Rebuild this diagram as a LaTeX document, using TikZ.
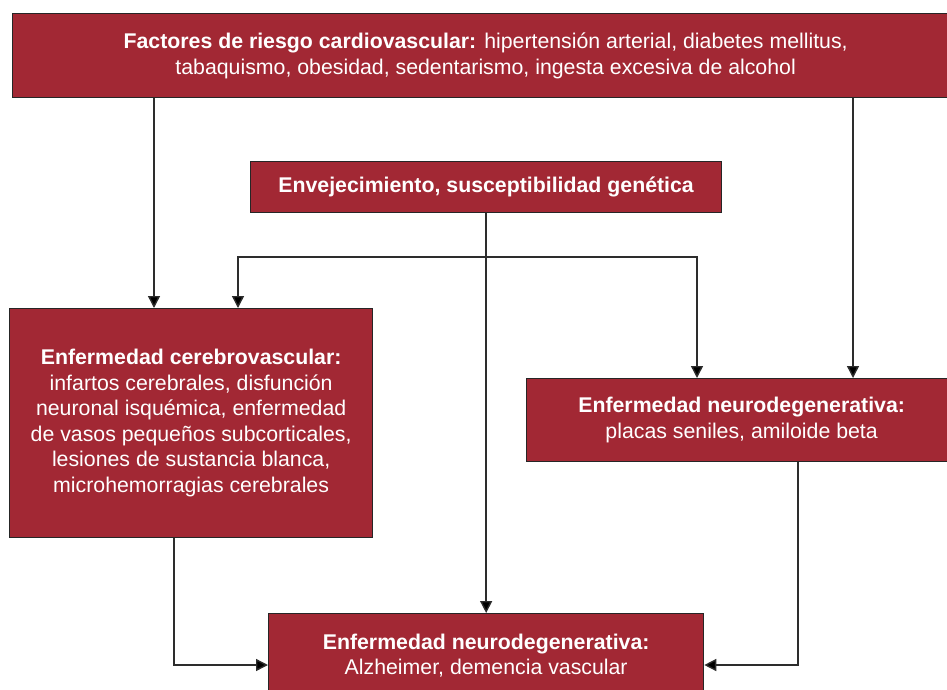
\documentclass[tikz,border=0pt]{standalone}
\usepackage{fontspec}
\setmainfont{Liberation Sans}
\usetikzlibrary{arrows.meta}
\definecolor{boxred}{RGB}{162,40,52}
\definecolor{linegrey}{RGB}{45,45,45}
\begin{document}
\begin{tikzpicture}[x=1pt,y=-1pt,
  box/.style={draw=black!85, line width=1.3pt, fill=boxred, text=white,
    anchor=north west, inner sep=0pt, align=center,
    font=\fontsize{21.3}{25.5}\selectfont},
  arr/.style={draw=linegrey, line width=1.4pt,
    -{Triangle[width=12pt,length=12pt,fill=black]}},
  conn/.style={draw=linegrey, line width=1.4pt}]
\useasboundingbox (0,0) rectangle (947,690);
\clip (0,0) rectangle (947,690);
\fill[white] (0,0) rectangle (947,690);

\node[box, minimum width=946pt, minimum height=84pt] (top) at (12,13)
  {\textbf{Factores de riesgo cardiovascular:} hipertensión arterial, diabetes mellitus,\\
   tabaquismo, obesidad, sedentarismo, ingesta excesiva de alcohol};

\node[box, minimum width=471pt, minimum height=51pt] (env) at (250,161)
  {\textbf{Envejecimiento, susceptibilidad genética}};

\node[box, minimum width=363pt, minimum height=229pt] (cereb) at (9,308)
  {\textbf{Enfermedad cerebrovascular:}\\
   infartos cerebrales, disfunción\\
   neuronal isquémica, enfermedad\\
   de vasos pequeños subcorticales,\\
   lesiones de sustancia blanca,\\
   microhemorragias cerebrales};

\node[box, minimum width=430pt, minimum height=83pt] (neuro) at (526,378)
  {\textbf{Enfermedad neurodegenerativa:}\\
   placas seniles, amiloide beta};

\node[box, minimum width=435pt, minimum height=84pt] (bottom) at (268,613)
  {\textbf{Enfermedad neurodegenerativa:}\\
   Alzheimer, demencia vascular};

\coordinate (xa) at (154,0);
\coordinate (xb) at (853,0);
\coordinate (xc) at (238,0);
\coordinate (xd) at (697,0);
\coordinate (xe) at (174,0);
\coordinate (xf) at (798,0);
\coordinate (yj) at (0,257);
\coordinate (yb) at (0,665);
\coordinate (j) at (env.south |- yj);

\draw[arr] (top.south -| xa) -- (cereb.north -| xa);
\draw[arr] (top.south -| xb) -- (neuro.north -| xb);
\draw[arr] (env.south) -- (bottom.north);
\draw[arr] (j) -| (cereb.north -| xc);
\draw[arr] (j) -| (neuro.north -| xd);
\draw[arr] (cereb.south -| xe) |- (bottom.west |- yb);
\draw[arr] (neuro.south -| xf) |- (bottom.east |- yb);
\end{tikzpicture}
\end{document}
